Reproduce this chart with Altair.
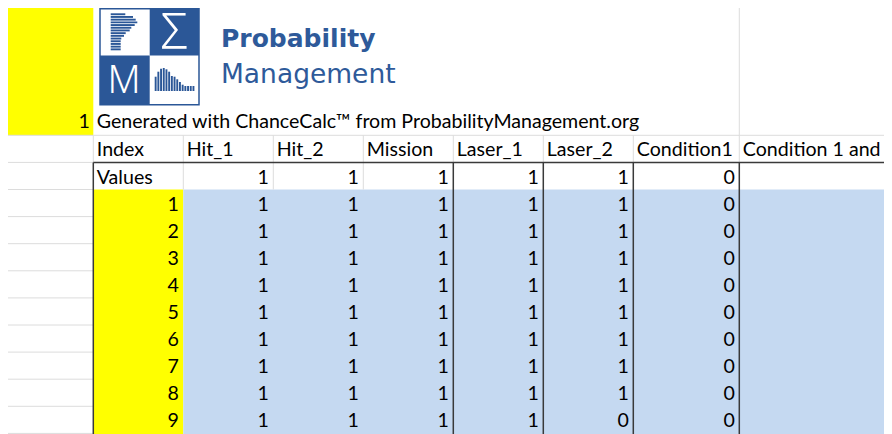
import altair as alt
import pandas as pd

# ---------------- data ----------------
headers = ["Index", "Hit_1", "Hit_2", "Mission", "Laser_1", "Laser_2",
           "Condition1", "Condition 1 and 2"]
values_label = "Values"
values_row = [1, 1, 1, 1, 1, 0, 0]          # Hit_1 .. Condition 1 and 2
index_vals = [1, 2, 3, 4, 5, 6, 7, 8, 9]
hit_1 = [1, 1, 1, 1, 1, 1, 1, 1, 1]
hit_2 = [1, 1, 1, 1, 1, 1, 1, 1, 1]
mission = [1, 1, 1, 1, 1, 1, 1, 1, 1]
laser_1 = [1, 1, 1, 1, 1, 1, 1, 1, 1]
laser_2 = [1, 1, 1, 1, 1, 1, 1, 1, 0]
condition1 = [0, 0, 0, 0, 0, 0, 0, 0, 0]
condition_1_and_2 = [0, 0, 0, 0, 0, 0, 0, 0, 0]
row1_label = "1"
credit = "Generated with ChanceCalc\u2122 from ProbabilityManagement.org"
brand_top = "Probability"
brand_bottom = "Management"
logo_glyphs = ["\u03a3", "M"]
logo_hbar_len = [14.6, 22.3, 25.0, 26.6, 24.0, 20.6, 19.0, 15.0, 13.3, 10.6, 10.0, 10.0, 10.0, 10.0]
logo_vbar_h = [14.3, 19.3, 22.3, 23.0, 21.7, 19.3, 15.0, 14.3, 11.7, 9.0, 6.3, 5.0, 5.0, 5.0, 5.0]

# ---------------- layout ----------------
X0, X1, Y0, Y1 = 8, 884, 8, 434
W, H = X1 - X0, Y1 - Y0
colA = (7.0, 93.3)
col_widths = [90, 90, 90, 90, 90, 90, 106, 162]
col_edges = [93.3]
for w in col_widths:
    col_edges.append(col_edges[-1] + w)
row1_top = 6.0
header_top = 135.3
pitch = 27.1
tops = [header_top + k * pitch for k in range(13)]
n_rows = len(index_vals)
fill_top = tops[2]
fill_bottom = tops[2 + n_rows + 1]

BLUE_FILL = "#c5d9f1"
YELLOW = "#ffff00"
GRID = "#dcdcdc"
DARK = "#3a3a3a"
LOGO_BLUE = "#2b5797"
BRAND_BLUE = "#2e5a9a"
CELL_FONT = "Lato"
CELL_SIZE = 19.6

xs = alt.Scale(domain=[X0, X1], nice=False, zero=False)
ys = alt.Scale(domain=[Y0, Y1], nice=False, zero=False, reverse=True)


def X(f="x"):
    return alt.X(f"{f}:Q", scale=xs, axis=None)


def Y(f="y"):
    return alt.Y(f"{f}:Q", scale=ys, axis=None)


# ---------------- fills ----------------
fills = pd.DataFrame([
    dict(x=colA[0], x2=colA[1], y=row1_top, y2=header_top, c=YELLOW),
    dict(x=col_edges[0], x2=col_edges[1], y=fill_top, y2=fill_bottom, c=YELLOW),
    dict(x=col_edges[1], x2=col_edges[-1], y=fill_top, y2=fill_bottom, c=BLUE_FILL),
])
fill_layer = alt.Chart(fills).mark_rect(clip=True).encode(
    x=X(), x2="x2:Q", y=Y(), y2="y2:Q", color=alt.Color("c:N", scale=None))

# ---------------- gridlines ----------------
light = []
for k in range(0, 2 + n_rows + 1):
    light.append(dict(x=colA[0], x2=colA[1], y=tops[k], y2=tops[k]))
light.append(dict(x=colA[1], x2=X1 + 20, y=header_top, y2=header_top))
for e in col_edges[:-1]:
    light.append(dict(x=e, x2=e, y=tops[0], y2=tops[1]))
for e in col_edges[1:4]:
    light.append(dict(x=e, x2=e, y=tops[1], y2=tops[2]))
light.append(dict(x=col_edges[7], x2=col_edges[7], y=row1_top, y2=header_top))
light_layer = alt.Chart(pd.DataFrame(light)).mark_rule(
    color=GRID, strokeWidth=1, clip=True).encode(x=X(), x2="x2:Q", y=Y(), y2="y2:Q")

dark = [dict(x=col_edges[0], x2=X1 + 20, y=tops[1], y2=tops[1]),
        dict(x=col_edges[0], x2=col_edges[0], y=tops[1], y2=fill_bottom)]
for e in col_edges[4:8]:
    dark.append(dict(x=e, x2=e, y=tops[1], y2=fill_bottom))
dark_layer = alt.Chart(pd.DataFrame(dark)).mark_rule(
    color=DARK, strokeWidth=1.5, clip=True).encode(x=X(), x2="x2:Q", y=Y(), y2="y2:Q")

# ---------------- cell text ----------------
left_txt = [dict(x=col_edges[0] + 3.5, y=header_top - 7, t=credit)]
for j, h in enumerate(headers):
    left_txt.append(dict(x=col_edges[j] + 3.5, y=tops[1] - 6, t=h))
left_txt.append(dict(x=col_edges[0] + 3.5, y=tops[2] - 6, t=values_label))
left_layer = alt.Chart(pd.DataFrame(left_txt)).mark_text(
    align="left", baseline="alphabetic", font=CELL_FONT, fontSize=CELL_SIZE,
    color="#000000", clip=True).encode(x=X(), y=Y(), text="t:N")

right_txt = [dict(x=colA[1] - 3.5, y=header_top - 7, t=row1_label)]
for j, v in enumerate(values_row):
    right_txt.append(dict(x=col_edges[j + 2] - 4.5, y=tops[2] - 6, t=str(v)))
columns = [index_vals, hit_1, hit_2, mission, laser_1, laser_2,
           condition1, condition_1_and_2]
for j, col in enumerate(columns):
    for i, v in enumerate(col):
        right_txt.append(dict(x=col_edges[j + 1] - 4.5, y=tops[3 + i] - 6, t=str(v)))
right_layer = alt.Chart(pd.DataFrame(right_txt)).mark_text(
    align="right", baseline="alphabetic", font=CELL_FONT, fontSize=CELL_SIZE,
    color="#000000", clip=True).encode(x=X(), y=Y(), text="t:N")

# ---------------- brand text ----------------
brand1 = alt.Chart(pd.DataFrame([dict(x=221, y=46.5, t=brand_top)])).mark_text(
    align="left", baseline="alphabetic", font="DejaVu Sans", fontWeight="bold",
    fontSize=25, color=BRAND_BLUE).encode(x=X(), y=Y(), text="t:N")
brand2 = alt.Chart(pd.DataFrame([dict(x=221, y=83, t=brand_bottom)])).mark_text(
    align="left", baseline="alphabetic", font="DejaVu Sans",
    fontSize=26.5, color=BRAND_BLUE).encode(x=X(), y=Y(), text="t:N")

# ---------------- logo ----------------
L, R, T, B = 100.0, 199.0, 8.7, 104.7
MX, MY = 149.7, 55.5
logo_box = alt.Chart(pd.DataFrame([dict(x=L, x2=R, y=T, y2=B)])).mark_rect(
    fill="#ffffff", stroke=LOGO_BLUE, strokeWidth=1.5).encode(
    x=X(), x2="x2:Q", y=Y(), y2="y2:Q")
quads = pd.DataFrame([dict(x=MX, x2=R, y=T, y2=MY), dict(x=L, x2=MX, y=MY, y2=B)])
quad_layer = alt.Chart(quads).mark_rect(color=LOGO_BLUE).encode(
    x=X(), x2="x2:Q", y=Y(), y2="y2:Q")
bars = []
for i, ln in enumerate(logo_hbar_len):
    y = 13.3 + i * 2.7
    bars.append(dict(x=110.7, x2=110.7 + ln, y=y, y2=y + 1.9))
for i, hgt in enumerate(logo_vbar_h):
    x = 154.7 + i * 2.7
    bars.append(dict(x=x, x2=x + 1.9, y=91.0 - hgt, y2=91.0))
bar_layer = alt.Chart(pd.DataFrame(bars)).mark_rect(color=LOGO_BLUE).encode(
    x=X(), x2="x2:Q", y=Y(), y2="y2:Q")
sigma = alt.Chart(pd.DataFrame([dict(x=174.3, y=49.3, t=logo_glyphs[0])])).mark_text(
    align="center", baseline="alphabetic", font="Noto Sans", fontWeight=300,
    fontSize=49, color="#ffffff").encode(x=X(), y=Y(), text="t:N")
em = alt.Chart(pd.DataFrame([dict(x=124.0, y=93.3, t=logo_glyphs[1])])).mark_text(
    align="center", baseline="alphabetic", font="Noto Sans", fontWeight=300,
    fontSize=38, color="#ffffff").encode(x=X(), y=Y(), text="t:N")

chart = alt.layer(
    fill_layer, light_layer, dark_layer, left_layer, right_layer,
    logo_box, quad_layer, bar_layer, sigma, em, brand1, brand2,
).properties(
    width=W, height=H, padding=0,
    autosize=alt.AutoSizeParams(type="none"),
    background="#ffffff",
).configure_view(strokeWidth=0)

chart.save("out.html", embed_options={"renderer": "svg", "actions": False})
